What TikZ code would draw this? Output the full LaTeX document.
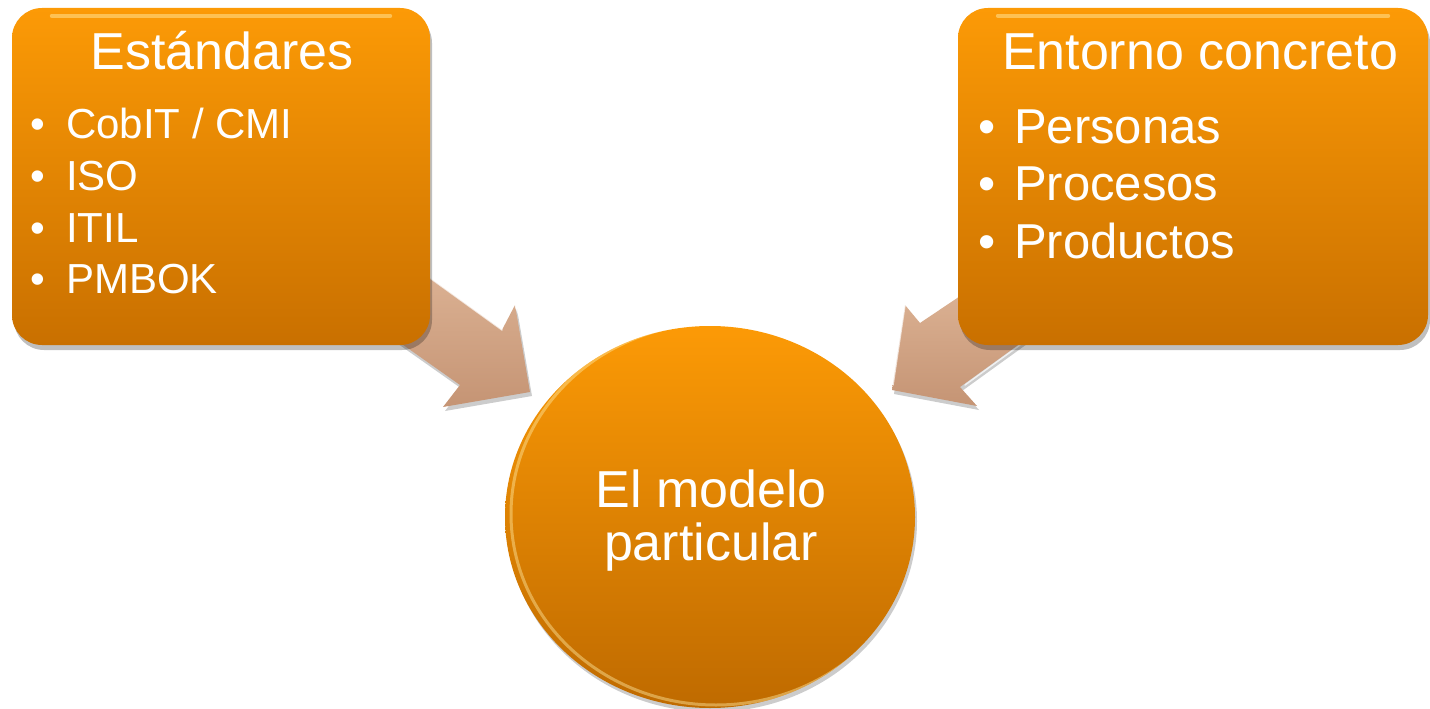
\documentclass[tikz,border=0pt]{standalone}
\usepackage{fontspec}
\setmainfont{Liberation Sans}
\usetikzlibrary{shapes.geometric,shadows,calc}
\definecolor{boxtop}{HTML}{FC9A06}
\definecolor{boxbot}{HTML}{C97000}
\definecolor{arrtop}{HTML}{DEB597}
\definecolor{arrbot}{HTML}{C59474}
\definecolor{glow}{HTML}{FFE9A0}
\begin{document}
\begin{tikzpicture}[x=1pt,y=-1pt,
  orangebox/.style={rectangle, rounded corners=30pt, top color=boxtop, bottom color=boxbot, draw=none,
    minimum height=337pt, inner sep=0pt,
    drop shadow={shadow xshift=2pt, shadow yshift=-5pt, opacity=0.25, fill=black}},
  bigdisc/.style={ellipse, top color=boxtop, bottom color=boxbot!95!black, draw=none,
    minimum width=410pt, minimum height=382pt, inner sep=0pt,
    drop shadow={shadow xshift=2pt, shadow yshift=-4pt, opacity=0.2, fill=black}},
  blockarrow/.style={top color=arrtop, bottom color=arrbot, draw=none,
    drop shadow={shadow xshift=2pt, shadow yshift=-4pt, opacity=0.2, fill=black}},
  shine/.style={draw=white, line width=1.5pt, opacity=0.7, line cap=round},
  gloss/.style={draw=glow, line width=4pt, opacity=0.5, line cap=round},
  title/.style={text=white, inner sep=0pt, font=\fontsize{52}{60}\selectfont},
  bulleta/.style={text=white, inner sep=0pt, font=\fontsize{42}{50}\selectfont},
  bulletb/.style={text=white, inner sep=0pt, font=\fontsize{49}{58}\selectfont}
]
\useasboundingbox (0,0) rectangle (1430,709);

% block arrows (drawn under the boxes)
\path[blockarrow] (398,255) -- (502,330) -- (515,305) -- (530,392) -- (443,407) -- (460,385) -- (365,318) -- cycle;
\draw[shine] (430,278) -- (502,330);
\draw[shine] (515,305) -- (520,318);
\path[blockarrow] (990,276) -- (920,323) -- (905,305) -- (892,390) -- (977,406) -- (960,387) -- (1050,322) -- cycle;
\draw[shine] (905,305) -- (893,385);
\draw[shine] (965,385) -- (1020,345);

% boxes
\node[orangebox, minimum width=418pt] (L) at (221,176.5) {};
\node[orangebox, minimum width=470pt] (R) at (1193,176.5) {};
\draw[gloss] ($(L.north west)+(40,8)$) -- ($(L.north east)+(-40,8)$);
\draw[gloss] ($(R.north west)+(40,8)$) -- ($(R.north east)+(-40,8)$);

% circle
\node[bigdisc] (C) at (710,517) {};
\begin{scope}
  \clip (710,517) ellipse [x radius=205, y radius=191];
  \draw[glow, line width=3pt, opacity=0.45] (716,514) ellipse [x radius=205, y radius=191];
\end{scope}

% texts left
\node[title, anchor=base] (t1) at (222,70) {Estándares};
\node[bulleta, anchor=base] (b11) at (38,138) {•};
\node[bulleta, anchor=base west] (i11) at (66,138) {CobIT / CMI};
\node[bulleta, anchor=base] (b12) at (38,190) {•};
\node[bulleta, anchor=base west] (i12) at (66,190) {ISO};
\node[bulleta, anchor=base] (b13) at (38,242) {•};
\node[bulleta, anchor=base west] (i13) at (66,242) {ITIL};
\node[bulleta, anchor=base] (b14) at (38,293) {•};
\node[bulleta, anchor=base west] (i14) at (66,293) {PMBOK};

% texts right
\node[title, anchor=base] (t2) at (1200,70) {Entorno concreto};
\node[bulletb, anchor=base] (b21) at (987,143) {•};
\node[bulletb, anchor=base west] (i21) at (1014,143) {Personas};
\node[bulletb, anchor=base] (b22) at (987,200) {•};
\node[bulletb, anchor=base west] (i22) at (1014,200) {Procesos};
\node[bulletb, anchor=base] (b23) at (987,258) {•};
\node[bulletb, anchor=base west] (i23) at (1014,258) {Productos};

% circle text
\node[title, anchor=base] (c1) at (711,507) {El modelo};
\node[title, anchor=base] (c2) at (711,560) {particular};
\end{tikzpicture}
\end{document}
